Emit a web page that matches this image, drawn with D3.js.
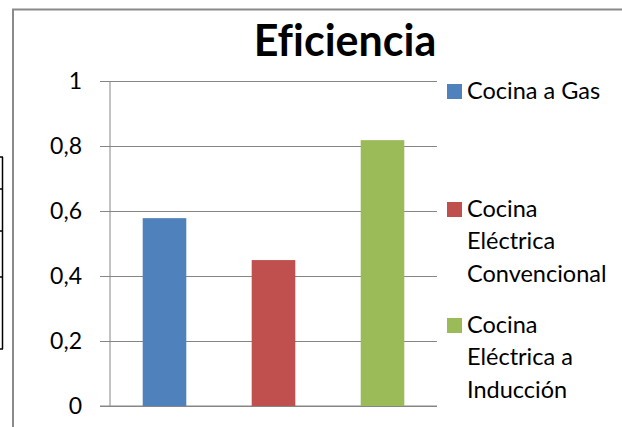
<!DOCTYPE html>
<meta charset="utf-8">
<script src="https://d3js.org/d3.v7.min.js"></script>
<style>
  body { margin: 0; background: #fff; }
  text { font-family: Lato, "Open Sans", sans-serif; font-variant-ligatures: none; }
</style>
<div id="chart"></div>
<script>

// data
var categories = ["Cocina a Gas", "Cocina Eléctrica Convencional", "Cocina Eléctrica a Inducción"];
var values = [0.578, 0.449, 0.818];
var colors = ["#4f81bd", "#c0504d", "#9bbb59"];
var legendLines = [["Cocina a Gas"], ["Cocina", "Eléctrica", "Convencional"], ["Cocina", "Eléctrica a", "Inducción"]];
var yTicks = [0, 0.2, 0.4, 0.6, 0.8, 1];

var W = 622, H = 427;
var plot = {left: 110, right: 437, top: 81, bottom: 406};

var svg = d3.select("#chart").append("svg")
    .attr("width", W)
    .attr("height", H);

// bits of a table peeking in at the left edge
var tableRows = [157, 189, 231, 277, 349];
svg.append("line").attr("x1", 2.5).attr("x2", 2.5).attr("y1", 157).attr("y2", 349)
  .style("stroke", "#000").style("stroke-width", 1.5);
svg.selectAll(".trow").data(tableRows).enter().append("line")
  .attr("x1", 0).attr("x2", 3).attr("y1", function(d) { return d; }).attr("y2", function(d) { return d; })
  .style("stroke", "#000").style("stroke-width", 1.5);

// chart frame (top and left edge visible)
svg.append("path")
  .attr("d", "M13," + H + "V9.5H" + W)
  .style("fill", "none").style("stroke", "#8a8a8a").style("stroke-width", 2);

var x = d3.scaleBand()
    .domain(categories)
    .range([plot.left, plot.right])
    .paddingInner(0.6)
    .paddingOuter(0.3);

var y = d3.scaleLinear()
    .domain([0, 1])
    .range([plot.bottom, plot.top]);

// gridlines
svg.append("g")
  .attr("transform", "translate(" + plot.left + ",0)")
  .call(d3.axisLeft(y).tickValues(yTicks).tickSize(-(plot.right - plot.left)).tickFormat(""))
  .call(function(g) { g.select(".domain").remove(); })
  .selectAll("line").style("stroke", "#868686");

// y axis with ticks and labels
var yAxis = svg.append("g")
  .attr("transform", "translate(" + plot.left + ",0)")
  .call(d3.axisLeft(y).tickValues(yTicks).tickSize(10).tickPadding(18)
        .tickFormat(function(d) { return d3.format("")(d).replace(".", ","); }));
yAxis.select(".domain").attr("d", "M0," + plot.top + "V" + plot.bottom).style("stroke", "#868686");
yAxis.selectAll("line").style("stroke", "#868686");
yAxis.selectAll("text").style("font-size", "23px").style("fill", "#000")
  .style("font-family", "Lato, sans-serif");

// x axis line
svg.append("line")
  .attr("x1", plot.left - 10).attr("x2", plot.right)
  .attr("y1", y(0)).attr("y2", y(0))
  .style("stroke", "#868686");

// bars
svg.selectAll(".bar").data(values).enter().append("rect")
  .attr("x", function(d, i) { return x(categories[i]); })
  .attr("width", x.bandwidth())
  .attr("y", function(d) { return y(d); })
  .attr("height", function(d) { return y(0) - y(d); })
  .style("fill", function(d, i) { return colors[i]; });

// title
svg.append("text")
  .attr("x", 345).attr("y", 56)
  .attr("text-anchor", "middle")
  .style("font-size", "43px").style("font-weight", "bold")
  .text("Eficiencia");

// legend
var legendY = [99, 217, 333];
var lg = svg.selectAll(".leg").data(legendLines).enter().append("g")
  .attr("transform", function(d, i) { return "translate(447," + legendY[i] + ")"; });
lg.append("rect")
  .attr("x", 0).attr("y", -15).attr("width", 15).attr("height", 15)
  .style("fill", function(d, i) { return colors[i]; });
lg.append("text")
  .style("font-size", "23.5px")
  .selectAll("tspan").data(function(d) { return d; }).enter().append("tspan")
    .attr("x", 20)
    .attr("dy", function(d, i) { return i ? 32.4 : 0; })
    .text(function(d) { return d; });

</script>
